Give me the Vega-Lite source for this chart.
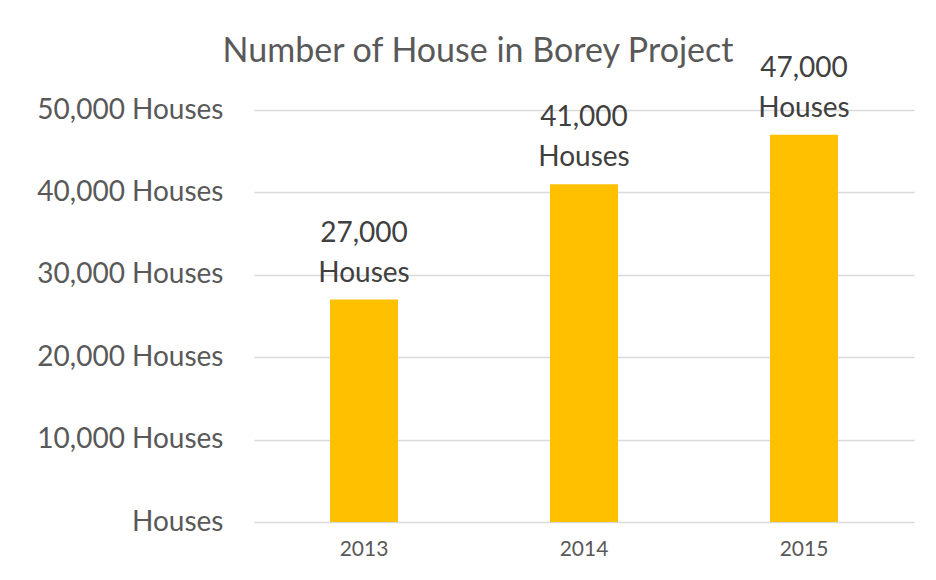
{
  "$schema": "https://vega.github.io/schema/vega-lite/v6.json",
  "width": 660,
  "height": 412,
  "autosize": {"type": "none"},
  "padding": {"left": 254, "top": 110, "right": 22, "bottom": 58},
  "background": "#ffffff",
  "title": {
    "text": "Number of House in Borey Project",
    "anchor": "middle",
    "frame": "group",
    "dx": -106,
    "offset": -14,
    "font": "Lato",
    "fontSize": 34,
    "fontWeight": "normal",
    "color": "#595959"
  },
  "data": {
    "values": [
      {"year": "2013", "houses": 27000},
      {"year": "2014", "houses": 41000},
      {"year": "2015", "houses": 47000}
    ]
  },
  "encoding": {
    "x": {
      "field": "year",
      "type": "ordinal",
      "scale": {"paddingInner": 0, "paddingOuter": 0},
      "axis": {
        "title": null,
        "labelAngle": 0,
        "domain": false,
        "ticks": false,
        "labelPadding": 16,
        "labelFont": "Lato",
        "labelFontSize": 21,
        "labelColor": "#595959"
      }
    },
    "y": {
      "field": "houses",
      "type": "quantitative",
      "scale": {"domain": [0, 50000]},
      "axis": {
        "title": null,
        "values": [0, 10000, 20000, 30000, 40000, 50000],
        "labelExpr": "datum.value == 0 ? 'Houses' : format(datum.value, ',') + ' Houses'",
        "domain": false,
        "ticks": false,
        "labelPadding": 31,
        "labelLimit": 400,
        "labelFont": "Lato",
        "labelFontSize": 28,
        "labelColor": "#595959",
        "gridColor": "#d9d9d9",
        "gridWidth": 1.5
      }
    }
  },
  "layer": [
    {
      "mark": {"type": "bar", "width": 68, "color": "#FFC000"}
    },
    {
      "transform": [
        {"calculate": "[format(datum.houses, ','), 'Houses']", "as": "lbl"}
      ],
      "mark": {
        "type": "text",
        "baseline": "alphabetic",
        "dy": -58,
        "lineHeight": 40,
        "font": "Lato",
        "fontSize": 28,
        "color": "#404040",
        "clip": false
      },
      "encoding": {"text": {"field": "lbl"}}
    }
  ],
  "config": {"view": {"stroke": null}}
}
